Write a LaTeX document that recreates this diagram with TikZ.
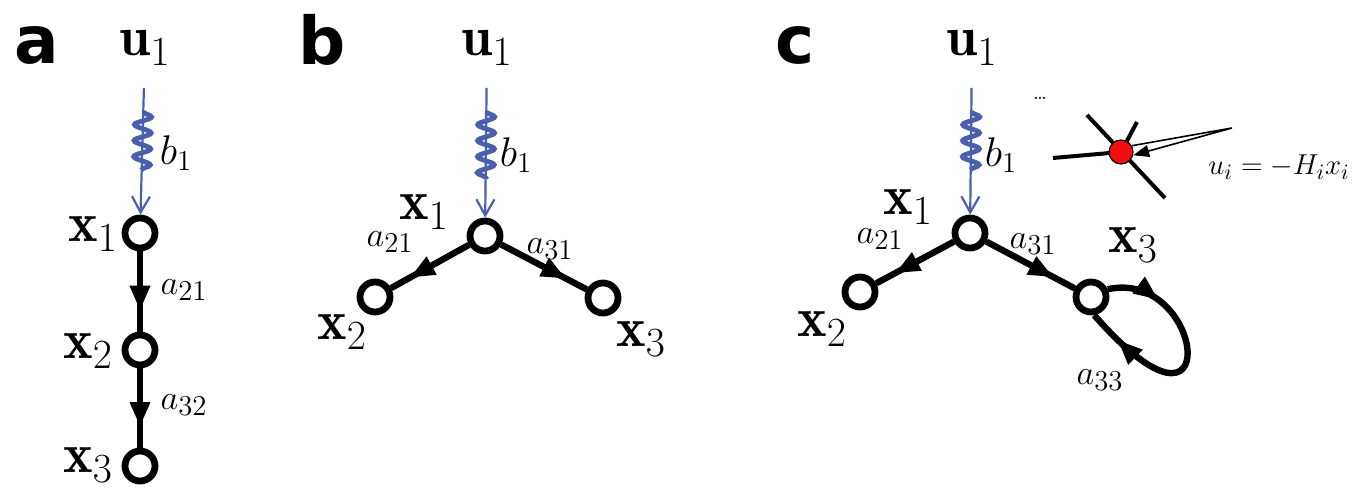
\documentclass[tikz,border=0pt]{standalone}
\usepackage{fontspec}
\usepackage{amsmath}
\usetikzlibrary{arrows.meta,positioning,decorations.pathmorphing,decorations.markings}
\newfontfamily\panelfont{DejaVu Sans}
\definecolor{ctrlblue}{HTML}{4A5FAE}
\definecolor{pinred}{HTML}{F01010}
\tikzset{
  state/.style={circle, draw=black, line width=3.4pt, minimum size=15pt,
    inner sep=0pt, fill=white},
  link/.style={line width=3.2pt, draw=black},
  midtip/.style={postaction={decorate}, decoration={markings,
    mark=at position #1 with {\arrow{Triangle[length=12.5pt,width=9.5pt]}}}},
  ctrl/.style={draw=ctrlblue, line width=1.1pt, shorten <=10pt,
    -{Straight Barb[length=8pt,width=9pt]}},
  coil/.style={draw=ctrlblue, line width=2.4pt, decorate,
    decoration={snake, amplitude=4.2pt, segment length=8pt,
      pre length=22pt, post length=19pt, pre=moveto, post=moveto}},
  varlbl/.style={font=\fontsize{28}{32}\selectfont, inner sep=1pt},
  gainlbl/.style={font=\fontsize{19}{22}\selectfont, inner sep=1pt},
  inlbl/.style={font=\fontsize{22}{26}\selectfont, inner sep=1pt},
  panel/.style={font=\panelfont\bfseries\fontsize{33}{36}\selectfont, inner sep=0pt},
}
\begin{document}
\begin{tikzpicture}[x=0.5pt, y=-0.5pt]
  \useasboundingbox (0,0) rectangle (1353,491);

  % panel a: chain
  \node[panel] (pa) at (37,45) {a};
  \node[varlbl] (ua) at (145,48) {$\mathbf{u}_1$};
  \node[state] (xa1) at (140,233) {};
  \node[state] (xa2) at (140,350) {};
  \node[state] (xa3) at (140,466) {};
  \node[varlbl] at (93,234) {$\mathbf{x}_1$};
  \node[varlbl] at (88,351) {$\mathbf{x}_2$};
  \node[varlbl] at (88,465) {$\mathbf{x}_3$};
  \node[inlbl] at (176,153) {$b_1$};
  \node[gainlbl] at (184,290) {$a_{21}$};
  \node[gainlbl] at (184,405) {$a_{32}$};
  \draw[ctrl] (ua) -- (xa1);
  \draw[coil] (ua) -- (xa1);
  \draw[link, midtip=0.74] (xa1) -- (xa2);
  \draw[link, midtip=0.74] (xa2) -- (xa3);

  % panel b: star
  \node[panel] (pb) at (322,40) {b};
  \node[varlbl] (ub) at (487,48) {$\mathbf{u}_1$};
  \node[state] (xb1) at (485,236) {};
  \node[state] (xb2) at (375,297) {};
  \node[state] (xb3) at (603,298) {};
  \node[varlbl] at (424,212) {$\mathbf{x}_1$};
  \node[varlbl] at (342,332) {$\mathbf{x}_2$};
  \node[varlbl] at (641,339) {$\mathbf{x}_3$};
  \node[inlbl] at (516,155) {$b_1$};
  \node[gainlbl] at (390,242) {$a_{21}$};
  \node[gainlbl] at (550,249) {$a_{31}$};
  \draw[ctrl] (ub) -- (xb1);
  \draw[coil] (ub) -- (xb1);
  \draw[link, midtip=0.76] (xb1) -- (xb2);
  \draw[link, midtip=0.76] (xb1) -- (xb3);

  % panel c: star with self loop
  \node[panel] (pc) at (795,45) {c};
  \node[varlbl] (uc) at (972,48) {$\mathbf{u}_1$};
  \node[state] (xc1) at (970,233) {};
  \node[state] (xc2) at (860,292) {};
  \node[state] (xc3) at (1091,297) {};
  \node[varlbl] at (908,207) {$\mathbf{x}_1$};
  \node[varlbl] at (822,329) {$\mathbf{x}_2$};
  \node[varlbl] at (1133,245) {$\mathbf{x}_3$};
  \node[inlbl] at (1001,155) {$b_1$};
  \node[gainlbl] at (880,239) {$a_{21}$};
  \node[gainlbl] at (1033,244) {$a_{31}$};
  \node[gainlbl] at (1100,380) {$a_{33}$};
  \draw[ctrl] (uc) -- (xc1);
  \draw[coil] (uc) -- (xc1);
  \draw[link, midtip=0.76] (xc1) -- (xc2);
  \draw[link, midtip=0.76] (xc1) -- (xc3);
  \draw[link, postaction={decorate}, decoration={markings,
      mark=at position 0.22 with {\arrow{Triangle[length=12.5pt,width=9.5pt]}},
      mark=at position 0.86 with {\arrow{Triangle[length=12.5pt,width=9.5pt]}}}]
    (xc3.25) .. controls (1205,268) and (1228,468) .. (xc3.-80);

  % feedback sketch
  \node[font=\fontsize{10}{12}\selectfont] (dots) at (1040,98) {\dots};
  \draw[line width=2pt] (1053,158) -- (1121,152);
  \draw[line width=2pt] (1087,115) -- (1165,198);
  \draw[line width=2pt] (1137,122) -- (1121,152);
  \node[circle, fill=pinred, draw=black, line width=0.6pt, minimum size=12pt,
    inner sep=0pt] (pin) at (1121,152) {};
  \draw[line width=0.8pt, -{Triangle[length=8pt,width=6pt]}]
    (pin.30) -- (1232,128) -- (pin.-15);
  \node[font=\fontsize{15}{18}\selectfont, inner sep=0pt] (law) at (1279,167)
    {$u_i = -H_i x_i$};
\end{tikzpicture}
\end{document}
